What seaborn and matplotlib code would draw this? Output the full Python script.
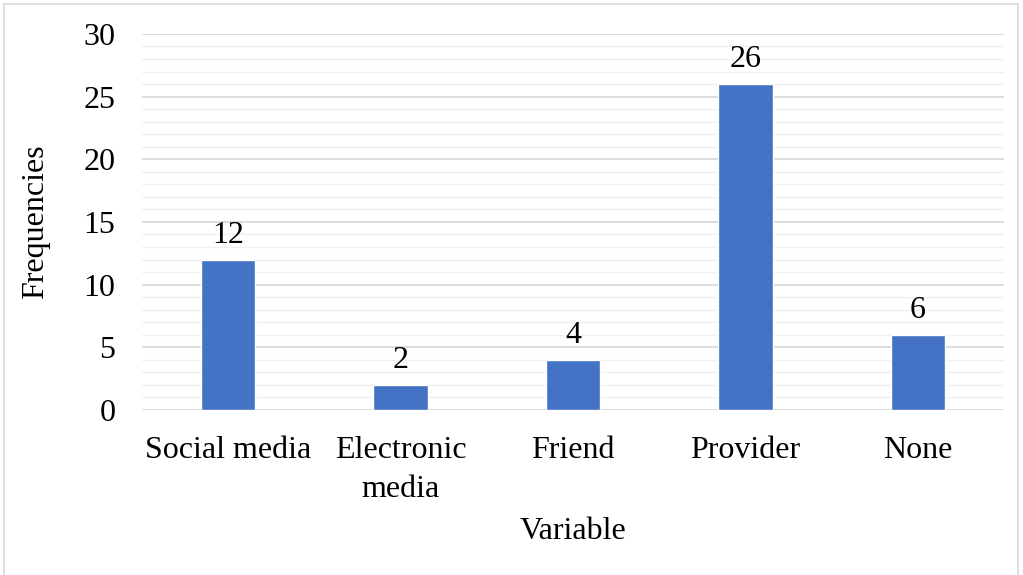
import matplotlib
matplotlib.use("Agg")
import matplotlib.pyplot as plt
import seaborn as sns
import pandas as pd
from matplotlib.ticker import MultipleLocator
from matplotlib.patches import Rectangle

categories = ["Social media", "Electronic\nmedia", "Friend", "Provider", "None"]
frequencies = [12, 2, 4, 26, 6]

df = pd.DataFrame({"Variable": categories, "Frequencies": frequencies})

sns.set_theme(style="white")
plt.rcParams["font.family"] = ["Liberation Serif", "DejaVu Serif"]

FS = 23

fig = plt.figure(figsize=(10.23, 5.75), dpi=100)
ax = fig.add_axes([0.1388, 0.287, 0.8426, 0.654])

sns.barplot(data=df, x="Variable", y="Frequencies", color="#4472C4",
            width=0.315, saturation=1, ax=ax, zorder=3)

ax.set_ylim(0, 30)
ax.yaxis.set_major_locator(MultipleLocator(5))
ax.yaxis.set_minor_locator(MultipleLocator(1))
ax.grid(which="major", axis="y", color="#D9D9D9", linewidth=1.3, zorder=0)
ax.grid(which="minor", axis="y", color="#F0F0F0", linewidth=1.0, zorder=0)
ax.set_axisbelow(True)
for s in ax.spines.values():
    s.set_visible(False)
ax.tick_params(axis="both", which="both", length=0, labelsize=FS, colors="black")
ax.tick_params(axis="y", pad=19)
ax.tick_params(axis="x", pad=19)
for lbl in ax.get_xticklabels():
    lbl.set_linespacing(1.45)

ax.set_xlabel("Variable", fontsize=FS, labelpad=9, color="black")
ax.set_ylabel("Frequencies", fontsize=FS, labelpad=24, color="black")

for c in ax.containers:
    ax.bar_label(c, labels=[str(v) for v in frequencies], fontsize=FS,
                 padding=7, color="black")

fig.patches.append(Rectangle((0.004, -0.01), 0.991, 1.003, transform=fig.transFigure,
                             fill=False, edgecolor="#D9D9D9", linewidth=1.2))

fig.savefig("out.png", dpi=100, facecolor="white")
